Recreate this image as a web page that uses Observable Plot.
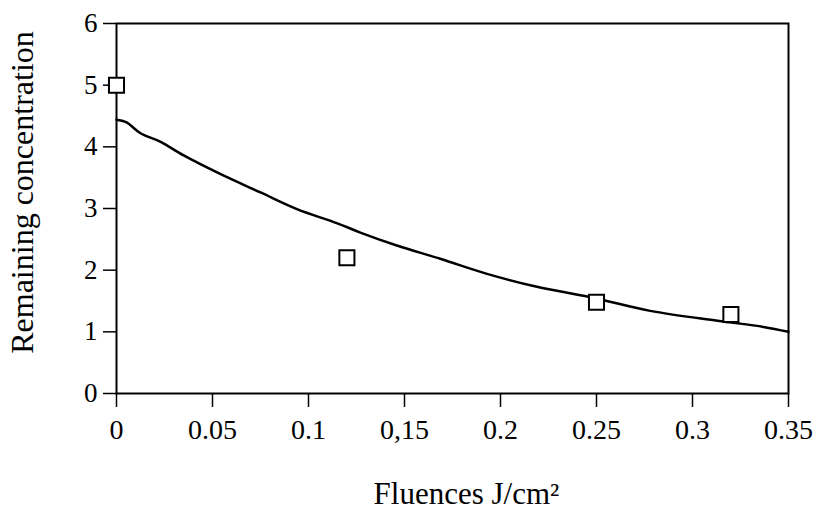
<!DOCTYPE html>
<html>
<head>
<meta charset="utf-8">
<script src="https://cdn.jsdelivr.net/npm/d3@7"></script>
<script src="https://cdn.jsdelivr.net/npm/@observablehq/plot@0.6"></script>
<style>
  html, body { margin: 0; padding: 0; background: #fff; }
  #chart svg { display: block; }
</style>
</head>
<body>
<div id="chart"></div>
<script>
// Measured points (squares)
const pointFluence = [0, 0.12, 0.25, 0.32];
const pointConc = [5.0, 2.2, 1.48, 1.28];

// Fitted curve
const curveFluence = [0, 0.005, 0.0125, 0.023, 0.035, 0.054, 0.075, 0.094, 0.115, 0.127, 0.146, 0.169, 0.193, 0.219, 0.247, 0.278, 0.313, 0.337, 0.35];
const curveConc = [4.44, 4.40, 4.22, 4.08, 3.86, 3.56, 3.26, 2.99, 2.76, 2.61, 2.40, 2.18, 1.94, 1.73, 1.56, 1.34, 1.18, 1.08, 1.00];

// Axis ticks
const xTicks = [0, 0.05, 0.1, 0.15, 0.2, 0.25, 0.3, 0.35];
const xTickLabels = ["0", "0.05", "0.1", "0,15", "0.2", "0.25", "0.3", "0.35"];
const yTicks = [0, 1, 2, 3, 4, 5, 6];

const xTitle = "Fluences J/cm²";
const yTitle = "Remaining concentration";

const points = pointFluence.map((x, i) => ({x, y: pointConc[i]}));
const curve = curveFluence.map((x, i) => ({x, y: curveConc[i]}));

const font = "'Liberation Serif', 'Times New Roman', serif";

const chart = Plot.plot({
  width: 818,
  height: 510,
  marginLeft: 116,
  marginRight: 30,
  marginTop: 23,
  marginBottom: 117,
  style: {fontFamily: font, fontSize: "27px", color: "#000", background: "#fff"},
  x: {domain: [0, 0.35]},
  y: {domain: [0, 6]},
  marks: [
    Plot.frame({stroke: "#000", strokeWidth: 2}),
    Plot.axisX({
      ticks: xTicks,
      tickFormat: (d) => xTickLabels[xTicks.indexOf(d)],
      tickSize: 14,
      tickPadding: 12,
      strokeWidth: 1.5,
      fontSize: 28,
      label: null
    }),
    Plot.axisY({
      ticks: yTicks,
      tickFormat: d => String(d),
      tickSize: 13,
      tickPadding: 6,
      strokeWidth: 1.5,
      fontSize: 27,
      label: null
    }),
    Plot.line(curve, {x: "x", y: "y", curve: "catmull-rom", stroke: "#000", strokeWidth: 2.5}),
    Plot.dot(points, {x: "x", y: "y", symbol: "square", r: 8.5, stroke: "#000", strokeWidth: 2, fill: "#fff"}),
    Plot.text([xTitle], {frameAnchor: "bottom", textAnchor: "middle", lineAnchor: "bottom", dx: 14, dy: 110, fontSize: 31, fill: "#000"}),
    Plot.text([yTitle], {frameAnchor: "left", textAnchor: "middle", lineAnchor: "middle", rotate: -90, dx: -94, dy: -16, fontSize: 32, fill: "#000"})
  ]
});

document.getElementById("chart").appendChild(chart);
</script>
</body>
</html>
